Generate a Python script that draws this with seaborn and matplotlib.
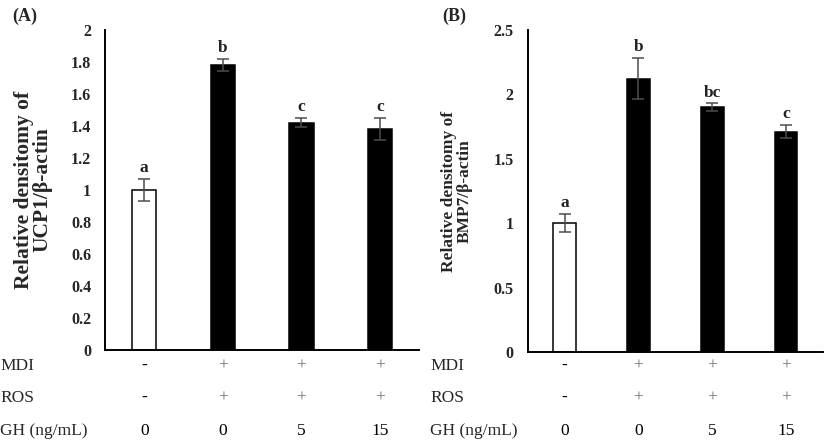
import numpy as np
import pandas as pd
import matplotlib
matplotlib.use("Agg")
import matplotlib.pyplot as plt
import seaborn as sns
from matplotlib.transforms import blended_transform_factory

groups = ["G1", "G2", "G3", "G4"]
mdi = ["-", "+", "+", "+"]
ros = ["-", "+", "+", "+"]
gh = ["0", "0", "5", "15"]

ucp1_mean = [1.00, 1.78, 1.42, 1.38]
ucp1_sd = [0.07, 0.04, 0.03, 0.07]
ucp1_letters = ["a", "b", "c", "c"]

bmp7_mean = [1.00, 2.12, 1.90, 1.71]
bmp7_sd = [0.07, 0.16, 0.03, 0.05]
bmp7_letters = ["a", "b", "bc", "c"]

fill_colors = ["white", "black", "black", "black"]

sns.set_style("white")
plt.rcParams['font.family'] = ['Liberation Serif', 'DejaVu Serif']

fig = plt.figure(figsize=(8.27, 4.4), dpi=100)
axA = fig.add_axes([0.127, 0.2045, 0.380, 0.728])
axB = fig.add_axes([0.638, 0.200, 0.357, 0.732])


def draw_panel(ax, means, sds, letters, ymax, yticks, ylabel, label_size):
    df = pd.DataFrame({"group": groups, "value": means})
    sns.barplot(data=df, x="group", y="value", hue="group", order=groups,
                palette=dict(zip(groups, fill_colors)), width=0.31,
                edgecolor="black", linewidth=1.1, legend=False, ax=ax)
    ax.errorbar(np.arange(len(groups)), means, yerr=sds, fmt="none",
                ecolor="#4d4d4d", elinewidth=1.1, capsize=4, capthick=1.1)
    for i, (m, s, let) in enumerate(zip(means, sds, letters)):
        ax.annotate(let, (i, m + s), xytext=(0, 2), textcoords="offset points",
                    ha="center", va="bottom", fontsize=12.5, fontweight="bold",
                    color="#222222")
    ax.set_xlim(-0.5, 3.5)
    ax.set_ylim(0, ymax)
    ax.set_yticks(yticks)
    ax.set_yticklabels([("%g" % t) for t in yticks], fontsize=11.5,
                       fontweight="bold")
    ax.set_xticks([])
    ax.set_xlabel("")
    ax.set_ylabel(ylabel, fontsize=label_size, fontweight="bold",
                  linespacing=0.95)
    ax.tick_params(axis="y", length=0, pad=10)
    for side in ["top", "right"]:
        ax.spines[side].set_visible(False)
    for side in ["left", "bottom"]:
        ax.spines[side].set_color("black")
        ax.spines[side].set_linewidth(1.4)
    ax.patch.set_alpha(0)

    trans = blended_transform_factory(ax.transData, fig.transFigure)
    rows = [("MDI", mdi, 366), ("ROS", ros, 398), ("GH (ng/mL)", gh, 431)]
    for name, vals, ypix in rows:
        yf = 1 - ypix / 440
        for i, v in enumerate(vals):
            col = "#7a6a80" if v == "+" else "black"
            wt = "bold" if v == "-" else "normal"
            ax.text(i, yf, v, transform=trans, ha="center", va="center",
                    fontsize=12.5, color=col, fontweight=wt, clip_on=False)
    return rows


rows = draw_panel(axA, ucp1_mean, ucp1_sd, ucp1_letters, 2.0,
                  np.arange(0, 2.01, 0.2),
                  "Relative densitomy of\nUCP1/\u03b2-actin", 15.5)
draw_panel(axB, bmp7_mean, bmp7_sd, bmp7_letters, 2.5,
           np.arange(0, 2.51, 0.5),
           "Relative densitomy of\nBMP7/\u03b2-actin", 12.5)
axA.yaxis.set_label_coords(-0.166, 0.5)
axB.yaxis.set_label_coords(-0.186, 0.5)

for name, vals, ypix in rows:
    yf = 1 - ypix / 440
    fig.text(0.0, yf, name, ha="left", va="center", fontsize=12.5)
    fig.text(430 / 827, yf, name, ha="left", va="center", fontsize=12.5)

fig.text(12 / 827, 1 - 16 / 440, "(A)", fontsize=13, fontweight="bold",
         va="center", ha="left")
fig.text(442 / 827, 1 - 16 / 440, "(B)", fontsize=13, fontweight="bold",
         va="center", ha="left")

fig.savefig("out.png", dpi=100)
